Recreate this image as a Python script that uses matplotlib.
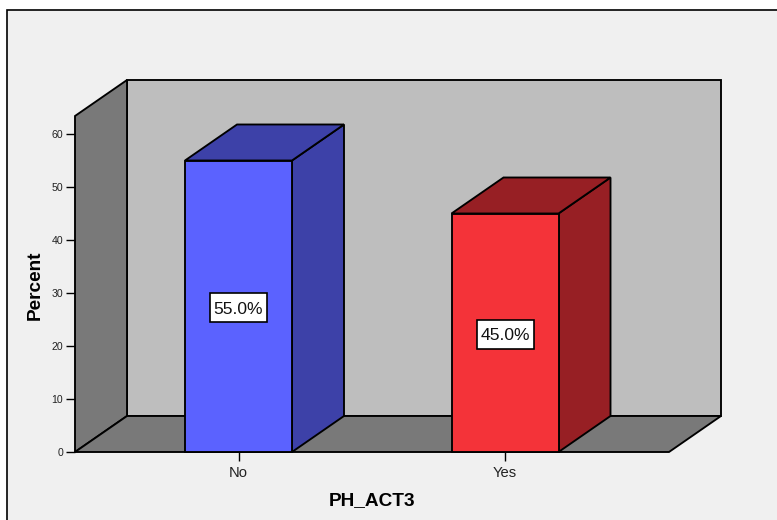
import matplotlib
matplotlib.use("Agg")
import matplotlib.pyplot as plt
from matplotlib.patches import Polygon, Rectangle

categories = ["No", "Yes"]
percents = [55.0, 45.0]
y_ticks = [0, 10, 20, 30, 40, 50, 60]
x_title = "PH_ACT3"
y_title = "Percent"

W, H = 777, 520
EDGE = "#000000"
front_colors = ["#5b62ff", "#f43339"]
shade_colors = ["#3d41a8", "#971f24"]

plt.rcParams["font.family"] = ["Liberation Sans", "DejaVu Sans"]
fig = plt.figure(figsize=(W / 100, H / 100), dpi=100, facecolor="white")

# Chart panel running off the right and bottom edges
fig.add_artist(Rectangle((7 / W, -0.05), 1.0, 1 - 9.5 / H + 0.05,
                         transform=fig.transFigure, facecolor="#f0f0f0",
                         edgecolor="black", linewidth=1.2, zorder=-5))

# Axes box is the front plane of the 3D frame
left, right, bottom, top = 75, 669, 452, 116
ax = fig.add_axes([left / W, 1 - bottom / H, (right - left) / W, (bottom - top) / H])
px_per_cat = 266.5
px_per_pct = 5.3
x0 = -(238.5 - left) / px_per_cat
x1 = x0 + (right - left) / px_per_cat
y1 = (bottom - top) / px_per_pct
ax.set_xlim(x0, x1)
ax.set_ylim(0, y1)
ax.patch.set_visible(False)

# Receding depth of the frame and of the bars, in data units
dx = 52 / px_per_cat
dy = 36 / px_per_pct
LW = 1.35


def poly(points, color, z):
    ax.add_patch(Polygon(points, closed=True, facecolor=color, edgecolor=EDGE,
                         linewidth=LW, joinstyle="miter", clip_on=False, zorder=z))


# Back wall, side wall and floor
poly([(x0 + dx, dy), (x1 + dx, dy), (x1 + dx, y1 + dy), (x0 + dx, y1 + dy)], "#bebebe", 1)
poly([(x0, 0), (x0 + dx, dy), (x0 + dx, y1 + dy), (x0, y1)], "#797979", 1.1)
poly([(x0, 0), (x1, 0), (x1 + dx, dy), (x0 + dx, dy)], "#797979", 1.2)

# Bars: side face, top face, front face, value label
half = 53.5 / px_per_cat
box_w = 57 / px_per_cat
box_h = 29 / px_per_pct
label_drop = 1.5 / px_per_pct
for i, (value, front, shade) in enumerate(zip(percents, front_colors, shade_colors)):
    poly([(i + half, 0), (i + half + dx, dy), (i + half + dx, value + dy), (i + half, value)], shade, 2)
    poly([(i - half, value), (i + half, value), (i + half + dx, value + dy), (i - half + dx, value + dy)], shade, 2)
    poly([(i - half, 0), (i + half, 0), (i + half, value), (i - half, value)], front, 3)
    mid = value / 2 - label_drop
    ax.add_patch(Rectangle((i - box_w / 2, mid - box_h / 2), box_w, box_h, facecolor="white",
                           edgecolor="black", linewidth=1.2, zorder=4))
    ax.text(i, mid, f"{value:.1f}%", ha="center", va="center_baseline", fontsize=12.6,
            color="#111111", zorder=5)

for side in ax.spines.values():
    side.set_visible(False)

ax.set_xticks(range(len(categories)), categories)
ax.set_yticks(y_ticks)
ax.tick_params(axis="y", length=6.5, width=1.0, pad=2, labelsize=7.6, color="black", labelcolor="#222222")
ax.tick_params(axis="x", length=6.5, width=1.0, pad=3.6, labelsize=10.6, color="black", labelcolor="#222222")

fig.text(35 / W, 1 - 285 / H, y_title, rotation=90, ha="center", va="center",
         fontsize=13.7, fontweight="bold", color="black")
fig.text(372 / W, 1 - 501 / H, x_title, ha="center", va="center",
         fontsize=13.7, fontweight="bold", color="black")

fig.savefig("out.png", dpi=100, facecolor=fig.get_facecolor())
